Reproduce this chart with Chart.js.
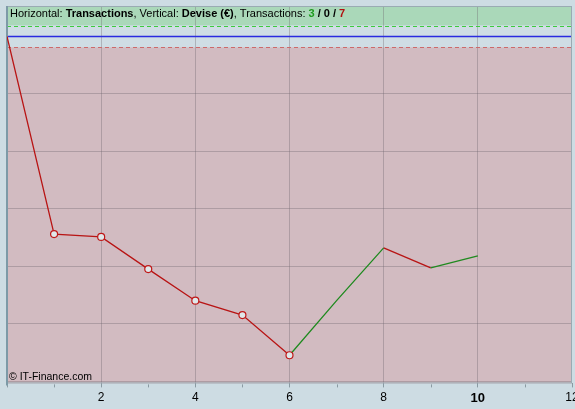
<!DOCTYPE html>
<html>
<head>
<meta charset="utf-8">
<script src="https://cdn.jsdelivr.net/npm/chart.js@4"></script>
<style>
  html, body { margin: 0; padding: 0; background: #cddce3; }
  #wrap { width: 575px; height: 409px; }
</style>
</head>
<body>
<div id="wrap"><canvas id="chartEquity" width="575" height="409"></canvas></div>
<script>
// transaction number vs equity (€)
const transactions = [0, 1, 2, 3, 4, 5, 6, 7, 8, 9, 10];
const equity = [0, -344, -349, -405, -460, -485, -555, -460, -368, -403, -382];
const xTicks = [0, 2, 4, 6, 8, 10, 12];
const yGrid = [-600, -500, -400, -300, -200, -100, 0];
const winLevel = 19;
const lossLevel = -19;
const countWin = 3, countFlat = 0, countLoss = 7;

const RED = '#b81414';
const GREEN = '#1f8a1f';

const fondo = {
    id: 'fondo',
    beforeDraw(chart) {
        const { ctx, chartArea: a, scales: { y } } = chart;
        ctx.save();
        ctx.fillStyle = '#cddce3';
        ctx.fillRect(0, 0, chart.width, chart.height);
        const yWin = y.getPixelForValue(winLevel);
        const yLoss = y.getPixelForValue(lossLevel);
        ctx.fillStyle = '#aad8b9';
        ctx.fillRect(a.left, a.top, a.width, yWin - a.top);
        ctx.fillStyle = '#cfdde4';
        ctx.fillRect(a.left, yWin, a.width, yLoss - yWin);
        ctx.fillStyle = '#d2bbc1';
        ctx.fillRect(a.left, yLoss, a.width, a.bottom - yLoss);
        ctx.restore();
    },
    beforeDatasetsDraw(chart) {
        const { ctx, chartArea: a, scales: { x, y } } = chart;
        ctx.save();
        const yWin = Math.round(y.getPixelForValue(winLevel)) + 0.5;
        const yLoss = Math.round(y.getPixelForValue(lossLevel)) + 0.5;
        const y0 = Math.round(y.getPixelForValue(0)) + 0.5;
        ctx.lineWidth = 1;
        ctx.setLineDash([4, 3]);
        ctx.strokeStyle = '#3ccc3c';
        ctx.beginPath(); ctx.moveTo(a.left, yWin); ctx.lineTo(a.right, yWin); ctx.stroke();
        ctx.strokeStyle = '#cc6a6a';
        ctx.beginPath(); ctx.moveTo(a.left, yLoss); ctx.lineTo(a.right, yLoss); ctx.stroke();
        ctx.setLineDash([]);
        ctx.strokeStyle = '#2a2ae0';
        ctx.lineWidth = 1.3;
        ctx.beginPath(); ctx.moveTo(a.left, y0); ctx.lineTo(a.right, y0); ctx.stroke();

        // borde
        ctx.lineWidth = 1;
        ctx.strokeStyle = '#9aabb3';
        ctx.strokeRect(a.left + 0.5, a.top + 0.5, a.width - 1, a.height - 1);
        ctx.strokeStyle = '#7d9aa7';
        ctx.lineWidth = 2;
        ctx.beginPath(); ctx.moveTo(a.left, a.top); ctx.lineTo(a.left, a.bottom + 2); ctx.stroke();

        // marcas menores en impares
        ctx.lineWidth = 1;
        ctx.strokeStyle = '#8a9aa2';
        for (let v = 1; v < 12; v += 2) {
            const px = Math.round(x.getPixelForValue(v)) + 0.5;
            ctx.beginPath(); ctx.moveTo(px, a.bottom + 1); ctx.lineTo(px, a.bottom + 4); ctx.stroke();
        }
        ctx.restore();
    },
    afterDraw(chart) {
        const { ctx, chartArea: a } = chart;
        ctx.save();
        ctx.textBaseline = 'middle';
        let cx = a.left + 3;
        const cy = a.top + 8;
        const partes = [
            ['Horizontal: ', false, '#000'],
            ['Transactions', true, '#000'],
            [', Vertical: ', false, '#000'],
            ['Devise (€)', true, '#000'],
            [', Transactions: ', false, '#000'],
            [String(countWin), true, '#1d9a1d'],
            [' / ' + countFlat + ' / ', true, '#000'],
            [String(countLoss), true, '#b01010']
        ];
        partes.forEach(([t, b, c]) => {
            ctx.font = (b ? 'bold ' : '') + '11px "Liberation Sans", Arial, sans-serif';
            ctx.fillStyle = c;
            ctx.fillText(t, cx, cy);
            cx += ctx.measureText(t).width;
        });
        ctx.font = '10.5px "Liberation Sans", Arial, sans-serif';
        ctx.fillStyle = '#000';
        ctx.fillText('© IT-Finance.com', a.left + 2, a.bottom - 6);
        ctx.restore();
    }
};

const ctx = document.getElementById('chartEquity').getContext('2d');
const chart = new Chart(ctx, {
    type: 'line',
    data: {
        datasets: [{
            label: 'Devise (€)',
            data: transactions.map((t, i) => ({ x: t, y: equity[i] })),
            borderColor: RED,
            borderWidth: 1.3,
            tension: 0,
            fill: false,
            segment: {
                borderColor: c => c.p1.parsed.y > c.p0.parsed.y ? GREEN : RED
            },
            pointRadius: c => (c.dataIndex >= 1 && c.dataIndex <= 6) ? 3.5 : 0,
            pointBackgroundColor: '#dfe8ea',
            pointBorderColor: '#c01818',
            pointBorderWidth: 1.2
        }]
    },
    options: {
        responsive: false,
        animation: false,
        layout: { padding: { left: 7, top: 6, right: 3, bottom: 0 } },
        plugins: { legend: { display: false }, tooltip: { enabled: false } },
        scales: {
            x: {
                type: 'linear',
                min: 0,
                max: 12,
                afterBuildTicks: s => { s.ticks = xTicks.map(v => ({ value: v })); },
                afterFit: s => { s.paddingRight = 0; s.paddingLeft = 0; },
                grid: {
                    color: c => c.tick && c.tick.value > 0 && c.tick.value < 12 ? 'rgba(110,100,110,0.35)' : 'rgba(0,0,0,0)',
                    tickColor: '#8a9aa2',
                    tickLength: 4,
                    drawOnChartArea: true
                },
                border: { display: false },
                ticks: {
                    padding: 3,
                    color: '#000',
                    maxRotation: 0,
                    callback: v => v === 0 ? '' : v,
                    font: c => c.tick && c.tick.value === 10
                        ? { family: '"Liberation Sans", Arial, sans-serif', size: 13, weight: 'bold' }
                        : { family: '"Liberation Sans", Arial, sans-serif', size: 12 }
                }
            },
            y: {
                min: -604,
                max: 53,
                afterBuildTicks: s => { s.ticks = yGrid.map(v => ({ value: v })); },
                grid: { color: 'rgba(110,100,110,0.35)', drawTicks: false },
                border: { display: false },
                ticks: { display: false }
            }
        }
    },
    plugins: [fondo]
});
</script>
</body>
</html>
